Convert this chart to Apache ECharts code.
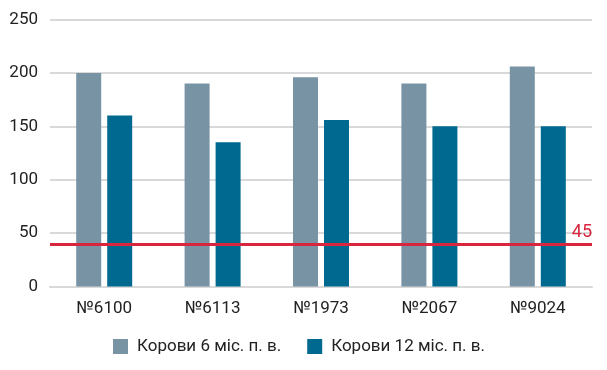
<!DOCTYPE html>
<html>
<head>
<meta charset="utf-8">
<script src="https://cdn.jsdelivr.net/npm/echarts@6/dist/echarts.min.js"></script>
<style>html,body{margin:0;padding:0;background:#fff}#c{width:607px;height:370px}</style>
</head>
<body>
<div id="c"></div>
<script>
var categories = ['№6100', '№6113', '№1973', '№2067', '№9024'];
var seriesNames = ['Корови 6 міс. п. в.', 'Корови 12 міс. п. в.'];
var cows6 = [200, 190, 196, 190, 206];
var cows12 = [160, 135, 156, 150, 150];
var thresholdValue = 40;
var thresholdLabel = '45';
var yTicks = [0, 50, 100, 150, 200, 250];

var FONT = 'Roboto, sans-serif';
var chart = echarts.init(document.getElementById('c'));
chart.setOption({
  animation: false,
  textStyle: { fontFamily: FONT },
  grid: { left: 50, right: 15, top: 19.5, bottom: 83.5 },
  legend: {
    data: seriesNames,
    top: 333,
    left: 108,
    icon: 'rect',
    itemWidth: 15,
    itemHeight: 15,
    itemGap: 26,
    textStyle: { fontFamily: FONT, fontSize: 17, color: '#222', padding: [0, 0, 0, 4] }
  },
  xAxis: {
    type: 'category',
    data: categories,
    axisLine: { show: true, lineStyle: { color: '#d9d9d9', width: 2 } },
    axisTick: { show: false },
    axisLabel: { fontFamily: FONT, fontSize: 17, color: '#222', margin: 14 }
  },
  yAxis: {
    type: 'value',
    min: yTicks[0],
    max: yTicks[yTicks.length - 1],
    interval: 50,
    axisLine: { show: false },
    axisTick: { show: false },
    splitLine: { lineStyle: { color: '#d9d9d9', width: 2 } },
    axisLabel: { fontFamily: FONT, fontSize: 17, color: '#222', margin: 12 }
  },
  series: [
    {
      name: seriesNames[0],
      type: 'bar',
      data: cows6,
      barWidth: 25,
      barGap: '24%',
      itemStyle: { color: '#7893a4' },
      markLine: {
        symbol: 'none',
        silent: true,
        lineStyle: { color: '#d7263d', width: 3, type: 'solid' },
        label: {
          show: true,
          position: 'insideEndTop',
          formatter: thresholdLabel,
          color: '#d7263d',
          fontFamily: FONT,
          fontSize: 18,
          distance: [0, 2]
        },
        data: [{ yAxis: thresholdValue }]
      },
      z: 2
    },
    {
      name: seriesNames[1],
      type: 'bar',
      data: cows12,
      barWidth: 25,
      itemStyle: { color: '#00698f' }
    }
  ]
});
</script>
</body>
</html>
